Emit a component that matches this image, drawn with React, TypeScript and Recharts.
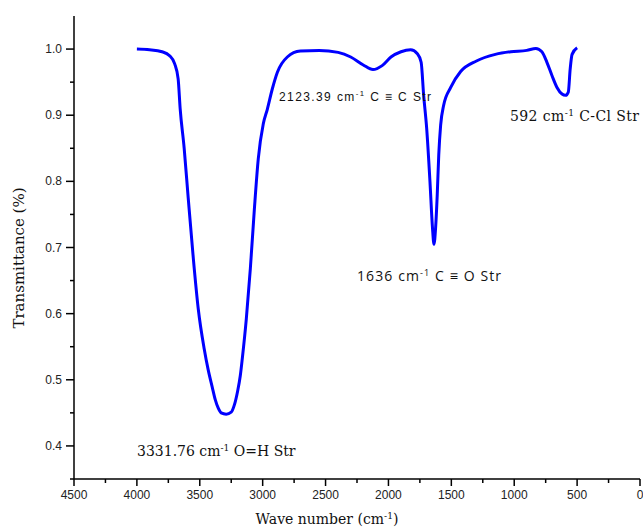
import React from 'react';
import { LineChart, Line, XAxis, YAxis } from 'recharts';

const wavenumbers = [
  4000, 3900, 3800, 3740, 3700, 3672, 3656, 3624, 3592, 3552, 3512, 3465, 3433, 3401, 3377, 3353,
  3330, 3290, 3250, 3225, 3200, 3178, 3162, 3130, 3098, 3066, 3035, 2995, 2963, 2923, 2883, 2804, 2700, 2550,
  2400, 2300, 2200, 2123, 2050, 1980, 1900, 1824, 1770, 1740, 1720, 1696, 1670, 1650, 1638, 1625,
  1612, 1600, 1585, 1561, 1505, 1426, 1300, 1150, 1027, 900, 828, 780, 740, 700, 660, 620, 592, 570,
  555, 540, 500,
];
const transmittance = [
  1.0, 0.999, 0.996, 0.99, 0.978, 0.955, 0.91, 0.85, 0.775, 0.685, 0.607, 0.547, 0.515, 0.489, 0.470, 0.457,
  0.450, 0.448, 0.451, 0.462, 0.482, 0.506, 0.532, 0.592, 0.668, 0.758, 0.834, 0.887, 0.909, 0.94, 0.965, 0.988, 0.997, 0.998,
  0.995, 0.988, 0.976, 0.969, 0.975, 0.988, 0.996, 0.999, 0.993, 0.98, 0.93, 0.88, 0.8, 0.73, 0.705, 0.73,
  0.78, 0.84, 0.885, 0.915, 0.942, 0.966, 0.982, 0.992, 0.996, 0.998, 1.001, 0.996, 0.98, 0.96, 0.942, 0.932, 0.93, 0.935,
  0.97, 0.992, 1.002,
];
const xTicks = [4500, 4250, 4000, 3750, 3500, 3250, 3000, 2750, 2500, 2250, 2000, 1750, 1500, 1250, 1000, 750, 500, 250, 0];
const yTicks = [0.35, 0.4, 0.45, 0.5, 0.55, 0.6, 0.65, 0.7, 0.75, 0.8, 0.85, 0.9, 0.95, 1.0];

const data = wavenumbers.map((w, i) => ({ wn: w, t: transmittance[i] }));

const tickFont = '"Liberation Sans", Arial, sans-serif';
const serifFont = '"DejaVu Serif", "Liberation Serif", serif';

const XTick = (props: any) => {
  const { x, y, payload } = props;
  const v = payload.value;
  const major = v % 500 === 0;
  return (
    <g>
      <line x1={x} x2={x} y1={y} y2={y + (major ? 7 : 4)} stroke="#000" strokeWidth={1.5} />
      {major && (
        <text x={x} y={y + 20} textAnchor="middle" fontFamily={tickFont} fontSize={12} fill="#222">
          {v}
        </text>
      )}
    </g>
  );
};

const YTick = (props: any) => {
  const { x, y, payload } = props;
  const v = payload.value;
  const major = Math.round(v * 100) % 10 === 0;
  return (
    <g>
      <line x1={x - (major ? 8 : 4)} x2={x} y1={y} y2={y} stroke="#000" strokeWidth={1.5} />
      {major && (
        <text x={x - 12} y={y + 4} textAnchor="end" fontFamily={tickFont} fontSize={12} fill="#222">
          {v.toFixed(1)}
        </text>
      )}
    </g>
  );
};

const Sup = ({ children }: { children: React.ReactNode }) => (
  <tspan fontSize="0.65em" dy={-5}>{children}</tspan>
);

export default function App() {
  return (
    <div style={{ position: 'absolute', left: 0, top: 0, width: 643, height: 531, background: '#fff' }}>
      <LineChart width={643} height={531} data={data} margin={{ top: 16, right: 3, bottom: 0, left: 0 }}>
        <XAxis
          dataKey="wn"
          type="number"
          domain={[0, 4500]}
          reversed
          ticks={xTicks}
          interval={0}
          tickSize={0}
          tickMargin={0}
          height={52}
          tick={<XTick />}
          axisLine={{ stroke: '#000', strokeWidth: 1.5 }}
          tickLine={false}
        />
        <YAxis
          type="number"
          domain={[0.35, 1.05]}
          ticks={yTicks}
          interval={0}
          tickSize={0}
          tickMargin={0}
          width={74}
          tick={<YTick />}
          axisLine={{ stroke: '#000', strokeWidth: 1.5 }}
          tickLine={false}
        />
        <Line
          dataKey="t"
          type="monotone"
          stroke="#0000FF"
          strokeWidth={3}
          dot={false}
          isAnimationActive={false}
        />
      </LineChart>
      <svg width={643} height={531} style={{ position: 'absolute', left: 0, top: 0, pointerEvents: 'none' }}>
        <text x={137} y={456} fontFamily={serifFont} fontSize={14} fill="#111">
          3331.76 cm<Sup>-1</Sup><tspan dy={5}> O=H Str</tspan>
        </text>
        <text x={279} y={101} fontFamily={tickFont} fontSize={12} letterSpacing={1.4} fill="#111">
          2123.39 cm<Sup>-1</Sup><tspan dy={5}> C ≡ C Str</tspan>
        </text>
        <text x={357} y={281} fontFamily='"Open Sans", sans-serif' fontSize={14} letterSpacing={1.1} fill="#111">
          1636 cm<Sup>-1</Sup><tspan dy={5}> C ≡ O Str</tspan>
        </text>
        <text x={510} y={121} fontFamily={serifFont} fontSize={14} letterSpacing={0.4} fill="#111">
          592 cm<Sup>-1</Sup><tspan dy={5}> C-Cl Str</tspan>
        </text>
        <text x={327} y={524} textAnchor="middle" fontFamily={serifFont} fontSize={14} fill="#111">
          Wave number (cm<Sup>-1</Sup><tspan dy={5}>)</tspan>
        </text>
        <text
          x={0}
          y={0}
          transform="translate(24 258) rotate(-90)"
          textAnchor="middle"
          fontFamily={serifFont}
          fontSize={15}
          fill="#111"
        >
          Transmittance (%)
        </text>
      </svg>
    </div>
  );
}
